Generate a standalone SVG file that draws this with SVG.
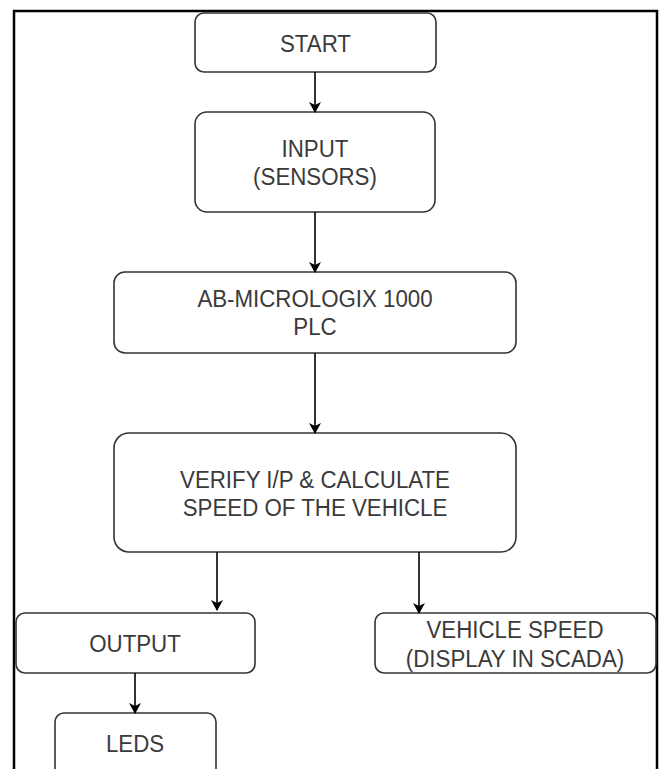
<svg xmlns="http://www.w3.org/2000/svg" width="660" height="769" viewBox="0 0 660 769">
  <defs>
    <marker id="arr" markerWidth="11" markerHeight="12" refX="10" refY="6" orient="auto" markerUnits="userSpaceOnUse">
      <path d="M0,0 L11,6 L0,12 L3,6 Z" fill="#000"/>
    </marker>
    <style>
      .box { fill: #fff; stroke: #333; stroke-width: 1.6; }
      .lbl { font-family: "Liberation Sans", Arial, sans-serif; font-size: 24.5px; fill: #3a3a3a; text-anchor: middle; }
      .conn { stroke: #000; stroke-width: 1.6; fill: none; marker-end: url(#arr); }
    </style>
  </defs>
  <rect width="660" height="769" fill="#fff"/>
  <path d="M14,769 V11 H657 V769" fill="none" stroke="#000" stroke-width="2.5"/>

  <g id="start">
    <rect class="box" x="195" y="13" width="241" height="59" rx="9"/>
    <text class="lbl" transform="translate(315.5,52) scale(0.91,1)">START</text>
  </g>
  <g id="input">
    <rect class="box" x="195" y="112" width="240" height="100" rx="12"/>
    <text class="lbl" transform="translate(315,157) scale(0.91,1)">INPUT</text>
    <text class="lbl" transform="translate(315,185) scale(0.91,1)">(SENSORS)</text>
  </g>
  <g id="plc">
    <rect class="box" x="114" y="272" width="402" height="81" rx="11"/>
    <text class="lbl" transform="translate(315,307) scale(0.91,1)">AB-MICROLOGIX 1000</text>
    <text class="lbl" transform="translate(315,335) scale(0.91,1)">PLC</text>
  </g>
  <g id="verify">
    <rect class="box" x="114" y="433" width="402" height="119" rx="15"/>
    <text class="lbl" transform="translate(315,488) scale(0.91,1)">VERIFY I/P &amp; CALCULATE</text>
    <text class="lbl" transform="translate(315,516) scale(0.91,1)">SPEED OF THE VEHICLE</text>
  </g>
  <g id="output">
    <rect class="box" x="16" y="613" width="239" height="60" rx="9"/>
    <text class="lbl" transform="translate(135,652) scale(0.91,1)">OUTPUT</text>
  </g>
  <g id="vehicle-speed">
    <rect class="box" x="375" y="613" width="281" height="60" rx="9"/>
    <text class="lbl" transform="translate(515,638) scale(0.91,1)">VEHICLE SPEED</text>
    <text class="lbl" transform="translate(515,667) scale(0.91,1)">(DISPLAY IN SCADA)</text>
  </g>
  <g id="leds">
    <rect class="box" x="55" y="713" width="161" height="80" rx="9"/>
    <text class="lbl" transform="translate(135,752) scale(0.91,1)">LEDS</text>
  </g>

  <g id="connectors">
    <line class="conn" x1="315" y1="72" x2="315" y2="112"/>
    <line class="conn" x1="315" y1="212" x2="315" y2="272"/>
    <line class="conn" x1="315" y1="353" x2="315" y2="433"/>
    <line class="conn" x1="217" y1="552" x2="217" y2="610"/>
    <line class="conn" x1="419" y1="552" x2="419" y2="613"/>
    <line class="conn" x1="135" y1="673" x2="135" y2="713"/>
  </g>
</svg>
